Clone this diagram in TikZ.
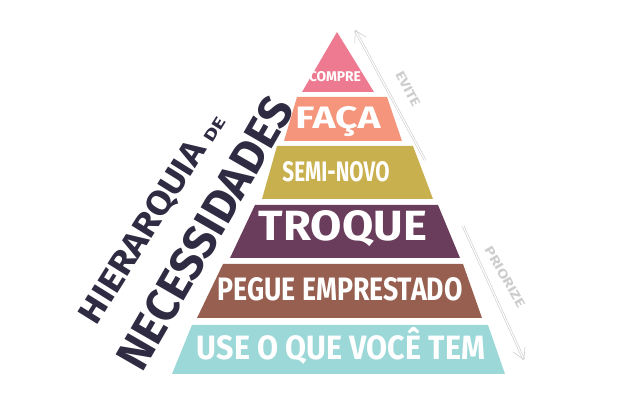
\documentclass[tikz,border=0pt]{standalone}
\usepackage{fontspec}
\setmainfont{Fira Sans}
\usetikzlibrary{arrows.meta}

\definecolor{compre}{HTML}{EE7A92}
\definecolor{faca}{HTML}{F5957B}
\definecolor{seminovo}{HTML}{C9B04F}
\definecolor{troque}{HTML}{6A3D5C}
\definecolor{pegue}{HTML}{975F50}
\definecolor{use}{HTML}{9DD8D9}
\definecolor{titulo}{HTML}{2F2B42}
\definecolor{seta}{HTML}{CDCDCD}

\newcommand{\rotulo}[3]{\resizebox{#1pt}{#2pt}{\bfseries #3}}

\tikzset{
  camada/.style={text=white, inner sep=0pt},
  titulotxt/.style={text=titulo, inner sep=0pt},
  setatxt/.style={text=seta, inner sep=0pt},
  setalinha/.style={draw=seta, line width=0.6pt, double=white, double distance=1.2pt,
    -{Straight Barb[length=11pt,width=13pt]}}
}

\begin{document}
\begin{tikzpicture}[x=1pt,y=-1pt]
  \useasboundingbox (0,0) rectangle (619,403);

  \fill[compre]   (337,32) -- (374,92) -- (302,92) -- cycle;
  \fill[faca]     (297,97) -- (387,97) -- (402,141) -- (284,141) -- cycle;
  \fill[seminovo] (277,146) -- (413,146) -- (433,199) -- (262,199) -- cycle;
  \fill[troque]   (255,205) -- (438,205) -- (460,258) -- (230,258) -- cycle;
  \fill[pegue]    (223,264) -- (463,264) -- (482,318) -- (197,318) -- cycle;
  \fill[use]      (192,325) -- (488,325) -- (505,374) -- (172,374) -- cycle;

  \node[camada] (compreTxt)   at (335,77)  {\rotulo{52}{10}{COMPRE}};
  \node[camada] (facaTxt)     at (338,122) {\rotulo{85}{22}{FAÇA}};
  \node[camada] (seminovoTxt) at (336,172) {\rotulo{107}{20}{SEMI-NOVO}};
  \node[camada] (troqueTxt)   at (343,229) {\rotulo{168}{30}{TROQUE}};
  \node[camada] (pegueTxt)    at (340,289) {\rotulo{245}{23}{PEGUE EMPRESTADO}};
  \node[camada] (useTxt)      at (341,346) {\rotulo{288}{32}{USE O QUE VOCÊ TEM}};

  \node[titulotxt, rotate=58] (hierarquia)   at (144,233) {\rotulo{208}{24}{HIERARQUIA}};
  \node[titulotxt, rotate=58] (de)           at (215,130) {\rotulo{26}{11}{DE}};
  \node[titulotxt, rotate=60] (necessidades) at (205,233) {\rotulo{306}{33}{NECESSIDADES}};

  \coordinate (eviteIni) at (425,160);
  \coordinate (eviteFim) at (355,30);
  \coordinate (priorizeIni) at (463,226);
  \coordinate (priorizeFim) at (524,360);
  \draw[setalinha] (eviteIni) -- (eviteFim);
  \draw[setalinha] (priorizeIni) -- (priorizeFim);
  \node[setatxt, rotate=-62] (evite)    at (408,89)  {\rotulo{38}{9}{EVITE}};
  \node[setatxt, rotate=-60] (priorize) at (505,277) {\rotulo{68}{9}{PRIORIZE}};
\end{tikzpicture}
\end{document}
